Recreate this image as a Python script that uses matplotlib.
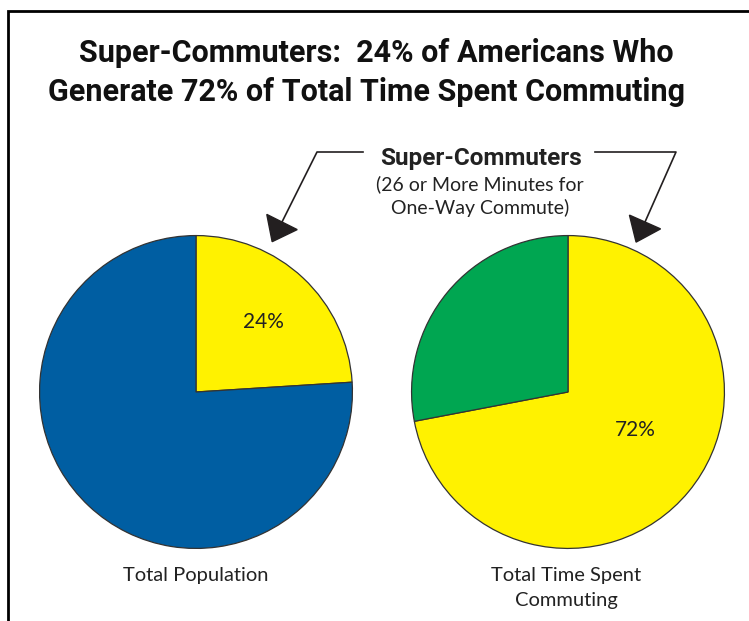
import numpy as np
import matplotlib
matplotlib.use("Agg")
import matplotlib.pyplot as plt
from matplotlib.patches import Polygon

# data
pie_names = ["Total Population", "Total Time Spent\nCommuting"]
super_share = [24, 72]          # percent that are super-commuters
other_share = [76, 28]
super_color = "#FFF200"
other_colors = ["#005EA2", "#00A651"]

W, H = 749, 621
fig = plt.figure(figsize=(W / 100, H / 100), dpi=100)

# overlay axes in pixel coords (y down)
ov = fig.add_axes([0, 0, 1, 1])
ov.set_xlim(0, W)
ov.set_ylim(H, 0)
ov.axis("off")

# frame
ov.plot([8, 8, W + 5], [H + 5, 11, 11], color="black", lw=2, solid_joinstyle="miter")

title_font = "Roboto"
body_font = "Lato"


def lines(x, y0, txt, step, **kw):
    # one text per line so every line sits on its own baseline
    for k, s in enumerate(txt.split("\n")):
        ov.text(x, y0 + k * step, s, ha="center", va="baseline", **kw)


ov.text(376, 62, "Super-Commuters:  24% of Americans Who", ha="center", va="baseline",
        fontsize=22, fontweight="bold", family=title_font, color="#111111")
ov.text(366, 101, "Generate 72% of Total Time Spent Commuting", ha="center", va="baseline",
        fontsize=22, fontweight="bold", family=title_font, color="#111111")

ov.text(481, 165, "Super-Commuters", ha="center", va="baseline",
        fontsize=17.5, fontweight="bold", family=title_font, color="#222222")
lines(480, 190, "(26 or More Minutes for\nOne-Way Commute)", 24,
      fontsize=14, family=body_font, color="#222222")


def pointer(xs, ys, tip_len=22, half_w=17):
    ov.plot(xs, ys, color="#231F20", lw=1.2)
    p = np.array([xs[-1], ys[-1]], float)
    d = p - np.array([xs[-2], ys[-2]], float)
    d /= np.hypot(*d)
    n = np.array([-d[1], d[0]])
    tri = [p + n * half_w, p - n * half_w, p + d * tip_len]
    ov.add_patch(Polygon(tri, closed=True, color="#231F20"))


pointer([363, 317, 282], [152, 152, 222])
pointer([595, 676, 645], [152, 152, 222])

# pies
centers = [(196, 392), (568, 392)]
radius = 158
for i, (cx, cy) in enumerate(centers):
    ax = fig.add_axes([(cx - radius) / W, (H - cy - radius) / H, 2 * radius / W, 2 * radius / H])
    ax.pie([super_share[i], other_share[i]], colors=[super_color, other_colors[i]],
           startangle=90, counterclock=False,
           wedgeprops=dict(edgecolor="#333333", linewidth=0.9))
    ax.set_xlim(-1.01, 1.01)
    ax.set_ylim(-1.01, 1.01)
    ax.set_aspect("equal")

ov.text(263, 322, f"{super_share[0]}%", ha="center", va="center",
        fontsize=15, family=body_font, color="#222222")
ov.text(635, 430, f"{super_share[1]}%", ha="center", va="center",
        fontsize=15, family=body_font, color="#222222")

lines(196, 581, pie_names[0], 25, fontsize=14.5, family=body_font, color="#222222")
lines(566, 581, pie_names[1], 25, fontsize=14.5, family=body_font, color="#222222")
ov.set_zorder(5)
ov.patch.set_alpha(0)

fig.savefig("out.png", dpi=100)
